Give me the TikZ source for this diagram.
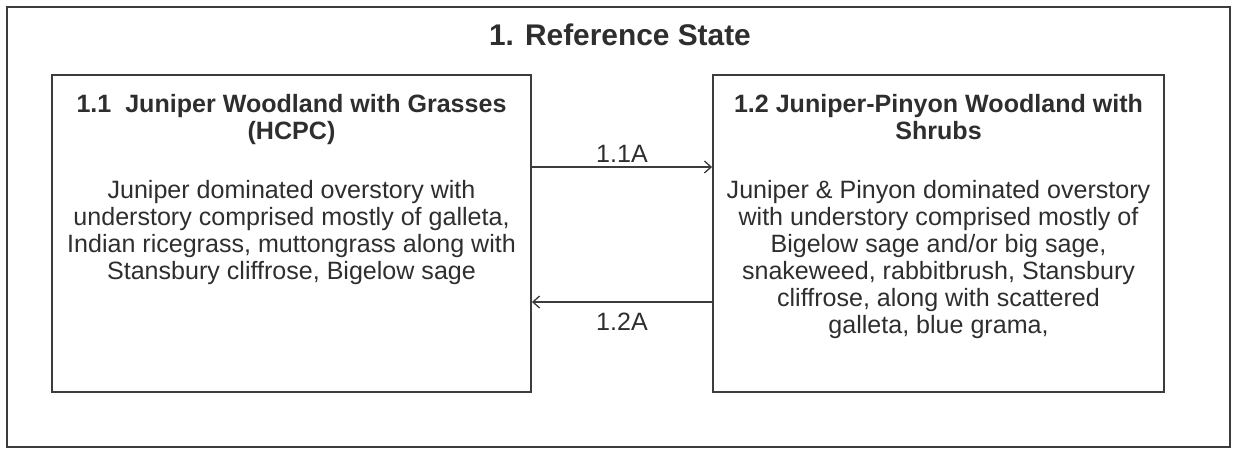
\documentclass[tikz,border=0pt]{standalone}
\usepackage{fontspec}
\setmainfont{Liberation Sans}
\usetikzlibrary{arrows.meta}
\definecolor{linec}{HTML}{3C3C3C}
\definecolor{textc}{HTML}{2E2E2E}
\tikzset{
  frame/.style={draw=linec, line width=1.5pt},
  statebox/.style={draw=linec, line width=1.4pt, minimum width=359.25pt, minimum height=237.75pt, inner sep=0pt},
  heading/.style={anchor=north, align=center, text=textc, font=\fontsize{18.8}{20.25}\selectfont\bfseries, inner sep=0pt},
  body/.style={anchor=north, align=center, text=textc, font=\fontsize{18.8}{20.25}\selectfont, inner sep=0pt},
  arr/.style={draw=linec, line width=1.3pt, -{Straight Barb[length=5pt,width=9pt,line width=1pt]}},
  lbl/.style={text=textc, font=\fontsize{18.8}{20}\selectfont, inner sep=0pt}
}
\begin{document}
\begin{tikzpicture}[x=0.75pt,y=-0.75pt]
\useasboundingbox (0,0) rectangle (1238,449);
\node[frame, minimum width=917pt, minimum height=330pt, inner sep=0pt] (outer) at (618.5,227) {};
\node[anchor=center, text=textc, font=\fontsize{22.4}{26}\selectfont\bfseries, inner sep=0pt] (title) at (620,35) {1. Reference State};
\node[statebox] (b11) at (291.5,233.5) {};
\node[statebox, minimum width=338.25pt] (b12) at (938.5,233.5) {};
\node[heading] (h11) at (291.5,94) {1.1\ \ Juniper Woodland with Grasses\\(HCPC)};
\node[body] (t11) at (291.5,180) {Juniper dominated overstory with\\understory comprised mostly of galleta,\\Indian ricegrass, muttongrass along with\\Stansbury cliffrose, Bigelow sage};
\node[heading] (h12) at (938.5,94) {1.2 Juniper-Pinyon Woodland with\\Shrubs};
\node[body] (t12) at (938.5,180) {Juniper \& Pinyon dominated overstory\\with understory comprised mostly of\\Bigelow sage and/or big sage,\\snakeweed, rabbitbrush, Stansbury\\cliffrose, along with scattered\\galleta, blue grama,};
\coordinate (ya) at (0,167);
\coordinate (yb) at (0,302);
\draw[arr] (b11.east |- ya) -- (b12.west |- ya) node[lbl, midway, above=2.5pt] (l1) {1.1A};
\draw[arr] (b12.west |- yb) -- (b11.east |- yb) node[lbl, midway, below=7.5pt] (l2) {1.2A};
\end{tikzpicture}
\end{document}
